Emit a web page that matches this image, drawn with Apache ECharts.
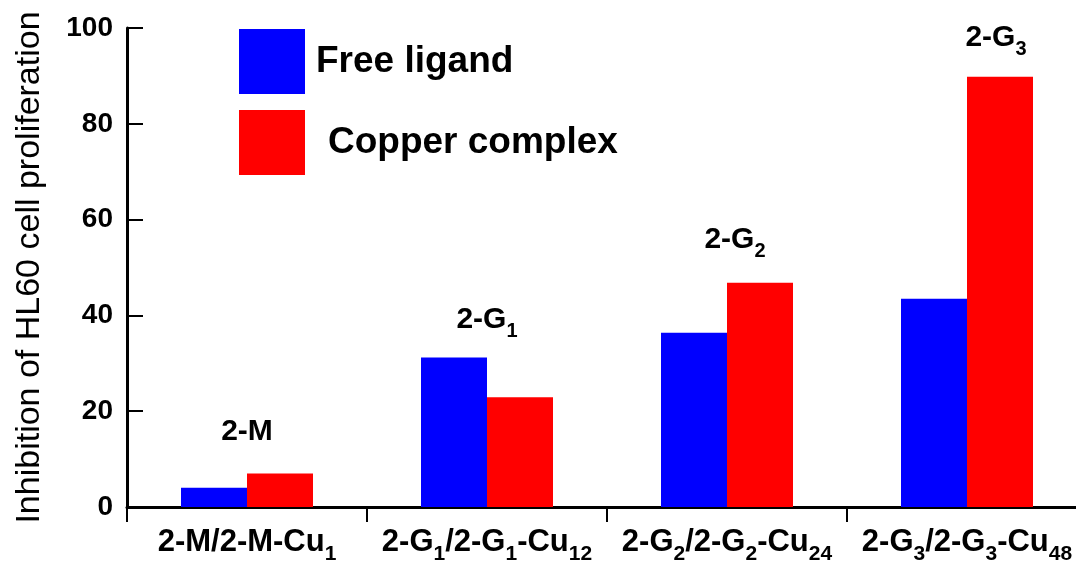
<!DOCTYPE html>
<html>
<head>
<meta charset="utf-8">
<script src="https://cdn.jsdelivr.net/npm/echarts@6/dist/echarts.min.js"></script>
<style>
  html, body { margin: 0; padding: 0; background: #fff; }
  #chart { width: 1076px; height: 571px; }
</style>
</head>
<body>
<div id="chart"></div>
<script>
// "_n" marks a subscript
const categories = ['2-M/2-M-Cu_1', '2-G_1/2-G_1-Cu_12', '2-G_2/2-G_2-Cu_24', '2-G_3/2-G_3-Cu_48'];
const freeLigand = [4.0, 31.2, 36.4, 43.5];
const copperComplex = [7.0, 22.9, 46.8, 89.8];
const groupNames = ['2-M', '2-G_1', '2-G_2', '2-G_3'];
const groupLabelY = [15.7, 39.1, 55.8, 98.0];
const yTicks = [0, 20, 40, 60, 80, 100];

const FONT = '"Liberation Sans", Arial, sans-serif';

// turn "2-G_1" into rich text tokens
function toRich(s) {
  return '{n|' + s.replace(/_(\d+)/g, '}{s|$1}{n|') + '}';
}

function richStyle(size, sub) {
  return {
    n: { fontSize: size, fontWeight: 'bold', fontFamily: FONT, color: '#000' },
    s: { fontSize: sub, fontWeight: 'bold', fontFamily: FONT, color: '#000', verticalAlign: 'bottom', padding: [0, 0, -7, 0] }
  };
}

// small nudges for the group labels, as in the original figure
const labelShiftX = [0, 0, 8, 29];

const chart = echarts.init(document.getElementById('chart'));
const option = {
  animation: false,
  backgroundColor: '#fff',
  color: ['#0000ff', '#ff0000'],
  grid: { left: 127, top: 28, width: 960, height: 479, outerBoundsMode: 'none', containLabel: false },
  legend: {
    orient: 'vertical',
    left: 234,
    top: 24,
    itemWidth: 66,
    itemHeight: 65,
    itemGap: 16,
    icon: 'rect',
    selectedMode: false,
    textStyle: { fontSize: 37, fontWeight: 'bold', fontFamily: FONT, color: '#000' },
    data: [
      { name: 'Free ligand', textStyle: { padding: [0, 0, 0, 6] } },
      { name: 'Copper complex', textStyle: { padding: [0, 0, 0, 18] } }
    ]
  },
  xAxis: {
    type: 'category',
    data: categories,
    axisLine: { lineStyle: { color: '#000', width: 3 } },
    axisTick: { show: true, length: 15, lineStyle: { color: '#000', width: 2 } },
    axisLabel: {
      margin: 20,
      interval: 0,
      formatter: v => toRich(v),
      rich: richStyle(31, 21)
    }
  },
  yAxis: {
    type: 'value',
    min: yTicks[0],
    max: yTicks[yTicks.length - 1],
    interval: 20,
    name: 'Inhibition of HL60 cell proliferation',
    nameLocation: 'middle',
    nameGap: 80,
    nameTextStyle: { fontSize: 34, fontFamily: FONT, color: '#000' },
    splitLine: { show: false },
    axisLine: { show: true, lineStyle: { color: '#000', width: 3 } },
    axisTick: { show: true, inside: true, length: 16, lineStyle: { color: '#000', width: 2 } },
    axisLabel: { margin: 14, fontSize: 28, fontWeight: 'bold', fontFamily: FONT, color: '#000' }
  },
  series: [
    {
      name: 'Free ligand',
      type: 'bar',
      barWidth: 66,
      barGap: '0%',
      data: freeLigand
    },
    {
      name: 'Copper complex',
      type: 'bar',
      barWidth: 66,
      barGap: '0%',
      data: copperComplex
    },
    {
      name: 'groups',
      type: 'scatter',
      symbolSize: 0,
      silent: true,
      itemStyle: { opacity: 1 },
      data: groupNames.map((g, i) => ({
        value: [i, groupLabelY[i]],
        label: {
          show: true,
          position: 'inside',
          offset: [labelShiftX[i], 0],
          color: '#000',
          textBorderWidth: 0,
          formatter: toRich(g),
          rich: richStyle(30, 20)
        }
      }))
    }
  ]
};
chart.setOption(option);
</script>
</body>
</html>
